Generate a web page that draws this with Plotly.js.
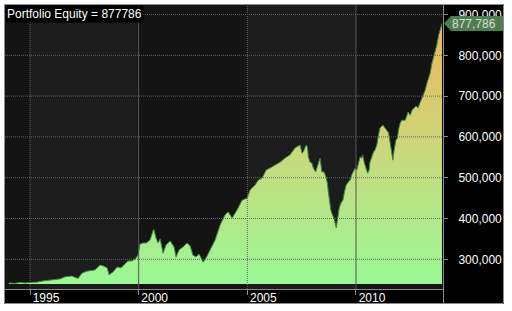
<!DOCTYPE html>
<html>
<head>
<meta charset="utf-8">
<script src="https://cdn.plot.ly/plotly-3.0.1.min.js"></script>
<style>html,body{margin:0;padding:0;background:#fff;}#chart{width:512px;height:311px;}</style>
</head>
<body>
<div id="chart"></div>
<script>
// ---- data ----
const dates = [
'1994-01-10','1994-04-22','1994-07-16','1994-10-08',
'1995-01-01','1995-04-27','1995-08-08','1995-12-02',
'1996-02-24','1996-05-19','1996-08-11','1996-12-06',
'1997-03-18','1997-05-23','1997-08-15','1997-12-28',
'1998-03-22','1998-05-12','1998-07-20','1998-08-22','1998-10-27',
'1999-01-04','1999-03-10','1999-05-15','1999-07-05','1999-09-13','1999-11-17','1999-12-20',
'2000-01-22','2000-03-14','2000-05-05','2000-07-09','2000-08-15','2000-09-09','2000-10-19','2000-11-21','2000-12-28',
'2001-02-14','2001-04-05','2001-06-14','2001-08-18','2001-09-20','2001-11-10',
'2002-01-15','2002-03-25','2002-05-15','2002-07-02','2002-08-22','2002-10-12','2002-12-20',
'2003-02-06','2003-04-16','2003-07-09','2003-10-01','2003-12-24',
'2004-02-14','2004-04-20','2004-07-13','2004-10-05','2004-12-28',
'2005-02-17','2005-05-12','2005-07-02','2005-09-06','2005-11-14',
'2006-01-19','2006-04-13','2006-07-05','2006-09-27','2006-12-20',
'2007-03-14','2007-06-06','2007-07-09','2007-07-31','2007-09-16','2007-10-08','2007-10-23','2007-11-21','2007-12-20',
'2008-01-15','2008-02-24','2008-04-09','2008-05-08','2008-06-06','2008-07-13','2008-08-15','2008-09-06','2008-09-24','2008-10-12','2008-11-03','2008-12-02',
'2009-01-04','2009-02-03','2009-02-25','2009-03-26','2009-04-24','2009-05-27','2009-06-21','2009-07-20','2009-08-29','2009-09-24','2009-10-23','2009-11-18','2009-12-17',
'2010-01-15','2010-02-10','2010-03-11','2010-04-09','2010-04-23','2010-05-22','2010-06-21','2010-07-16','2010-08-11','2010-08-25','2010-09-24','2010-10-23','2010-11-18','2010-12-17',
'2011-01-15','2011-02-10','2011-03-29','2011-05-05','2011-06-03','2011-07-02','2011-07-28','2011-08-26','2011-09-13','2011-10-05','2011-11-03','2011-11-29','2011-12-17',
'2012-01-15','2012-02-10','2012-04-09','2012-05-26','2012-07-01','2012-08-03','2012-10-08','2012-11-10','2012-12-17',
'2013-02-03','2013-03-11','2013-04-13','2013-06-03','2013-06-29','2013-07-28','2013-08-26','2013-09-21','2013-10-23','2013-12-17'
];
const equity = [
242000,241000,243000,242000,
243000,244000,247000,249000,
250000,252000,257000,259000,
253000,266000,271000,274000,
286000,284000,279000,262000,269000,
281000,279000,288000,296000,296000,303000,310000,
337000,340000,340000,347000,364000,374000,352000,340000,350000,
315000,335000,345000,330000,306000,323000,
330000,340000,333000,310000,306000,313000,293000,
303000,323000,347000,384000,409000,
416000,401000,421000,445000,450000,
470000,482000,494000,499000,519000,
524000,531000,538000,548000,556000,
573000,580000,560000,563000,580000,575000,551000,538000,536000,
524000,514000,538000,548000,514000,514000,502000,487000,465000,440000,421000,409000,
396000,377000,396000,426000,438000,445000,465000,482000,490000,494000,507000,514000,524000,
519000,536000,551000,548000,556000,536000,519000,511000,519000,538000,551000,563000,568000,580000,
605000,622000,629000,622000,617000,610000,587000,560000,543000,568000,592000,597000,617000,
634000,641000,641000,661000,653000,666000,676000,671000,685000,
700000,715000,734000,757000,779000,793000,808000,825000,850000,877786
];
const yTicks = [300000,400000,500000,600000,700000,800000,900000];
const xTickYears = ['1995','2000','2005','2010'];
const lightBands = [['1995-01-01','2000-01-01'],['2005-01-01','2010-01-01']];
const solidYears = ['2000-01-01','2010-01-01'];
const dottedYears = ['1995-01-01','2005-01-01'];

const LAST = equity[equity.length-1];
const FILL_BASE = 239500;
const Y_RANGE = [227200, 923300];
const X_RANGE = ['1993-11-06','2014-01-03'];

// ---- geometry helpers (layout only) ----
const W = 512, H = 311, L = 5, R = 69, T = 5, B = 22;
const PW = W - L - R, PH = H - T - B;
const px = p => (p - L) / PW;          // pixel x -> paper x
const py = p => (H - B - p) / PH;      // pixel y -> paper y
const yv = v => (v - Y_RANGE[0]) / (Y_RANGE[1] - Y_RANGE[0]);

const shapes = [];
// outer black areas
shapes.push({type:'rect', xref:'paper', yref:'paper', x0:px(443), x1:px(504), y0:py(304), y1:py(4), fillcolor:'#000', line:{width:0}, layer:'below'});
shapes.push({type:'rect', xref:'paper', yref:'paper', x0:px(4), x1:px(504), y0:py(304), y1:py(289), fillcolor:'#000', line:{width:0}, layer:'below'});
// lighter year bands
lightBands.forEach(b => shapes.push({type:'rect', xref:'x', yref:'paper', x0:b[0], x1:b[1], y0:0, y1:1, fillcolor:'#1c1c1c', line:{width:0}, layer:'below'}));
// grid lines above fill
yTicks.forEach(v => shapes.push({type:'line', xref:'paper', yref:'y', x0:0, x1:1, y0:v, y1:v, line:{color:'#646464', width:1, dash:'1px,1px'}, layer:'above'}));
dottedYears.forEach(d => shapes.push({type:'line', xref:'x', yref:'paper', x0:d, x1:d, y0:0, y1:1, line:{color:'#646464', width:1, dash:'1px,1px'}, layer:'above'}));
solidYears.forEach(d => shapes.push({type:'line', xref:'x', yref:'paper', x0:d, x1:d, y0:0, y1:1, line:{color:'#555', width:1}, layer:'above'}));
// frame lines
shapes.push({type:'rect', xref:'paper', yref:'paper', x0:px(4.5), x1:px(503.5), y0:py(303.5), y1:py(4.5), line:{color:'#8a8a8a', width:1}, layer:'above'});
shapes.push({type:'line', xref:'paper', yref:'paper', x0:px(443.5), x1:px(443.5), y0:py(303.5), y1:py(4.5), line:{color:'#8a8a8a', width:1}, layer:'above'});
// last-value tag
const yc = yv(LAST), hh = 7.5 / PH;
shapes.push({type:'path', xref:'paper', yref:'paper',
  path:`M ${px(444)},${yc} L ${px(451)},${yc+hh} L ${px(503)},${yc+hh} L ${px(503)},${yc-hh} L ${px(451)},${yc-hh} Z`,
  fillcolor:'#4e7e4e', line:{width:0}, layer:'above'});

const font = {family:'Arial, Liberation Sans, sans-serif', size:12, color:'#ffffff'};

const traces = [
  {x: dates, y: dates.map(() => FILL_BASE), type:'scatter', mode:'lines', line:{width:0, color:'rgba(0,0,0,0)'}, hoverinfo:'skip', showlegend:false},
  {x: dates, y: equity, type:'scatter', mode:'lines', fill:'tonexty',
   line:{color:'#3f8a3f', width:1},
   fillgradient:{type:'vertical', start:FILL_BASE, stop:LAST,
     colorscale:[[0,'#9af895'],[0.5,'#c9d97c'],[1,'#f0b65c']]},
   showlegend:false}
];

const layout = {
  width:W, height:H,
  margin:{l:L, r:R, t:T, b:B, pad:0},
  paper_bgcolor:'#ffffff',
  plot_bgcolor:'#141414',
  showlegend:false,
  xaxis:{type:'date', range:X_RANGE, tickvals:xTickYears.map(y => y+'-01-01'), ticktext:xTickYears,
    ticks:'outside', ticklen:5, tickcolor:'#8a8a8a', showline:true, linecolor:'#8a8a8a', linewidth:1,
    showgrid:false, zeroline:false, tickfont:font, ticklabelshift:16, ticklabelstandoff:-7, fixedrange:true},
  yaxis:{side:'right', range:Y_RANGE, tickvals:yTicks, tickformat:',d',
    ticks:'outside', ticklen:4, tickcolor:'#8a8a8a', showline:true, linecolor:'#8a8a8a', linewidth:1,
    showgrid:false, zeroline:false, tickfont:font, ticklabelstandoff:8, fixedrange:true},
  shapes: shapes,
  annotations:[
    {xref:'paper', yref:'paper', x:0, y:1, xanchor:'left', yanchor:'top', showarrow:false,
     text:'Portfolio Equity = ' + LAST, font:font, bgcolor:'#000000', borderpad:1},
    {xref:'paper', yref:'paper', x:px(474), y:yc, xanchor:'center', yanchor:'middle', showarrow:false,
     text: LAST.toLocaleString('en-US'), font:{family:font.family, size:12, color:'#dcdcdc'}}
  ]
};

Plotly.newPlot('chart', traces, layout, {staticPlot:true, displayModeBar:false});
</script>
</body>
</html>
